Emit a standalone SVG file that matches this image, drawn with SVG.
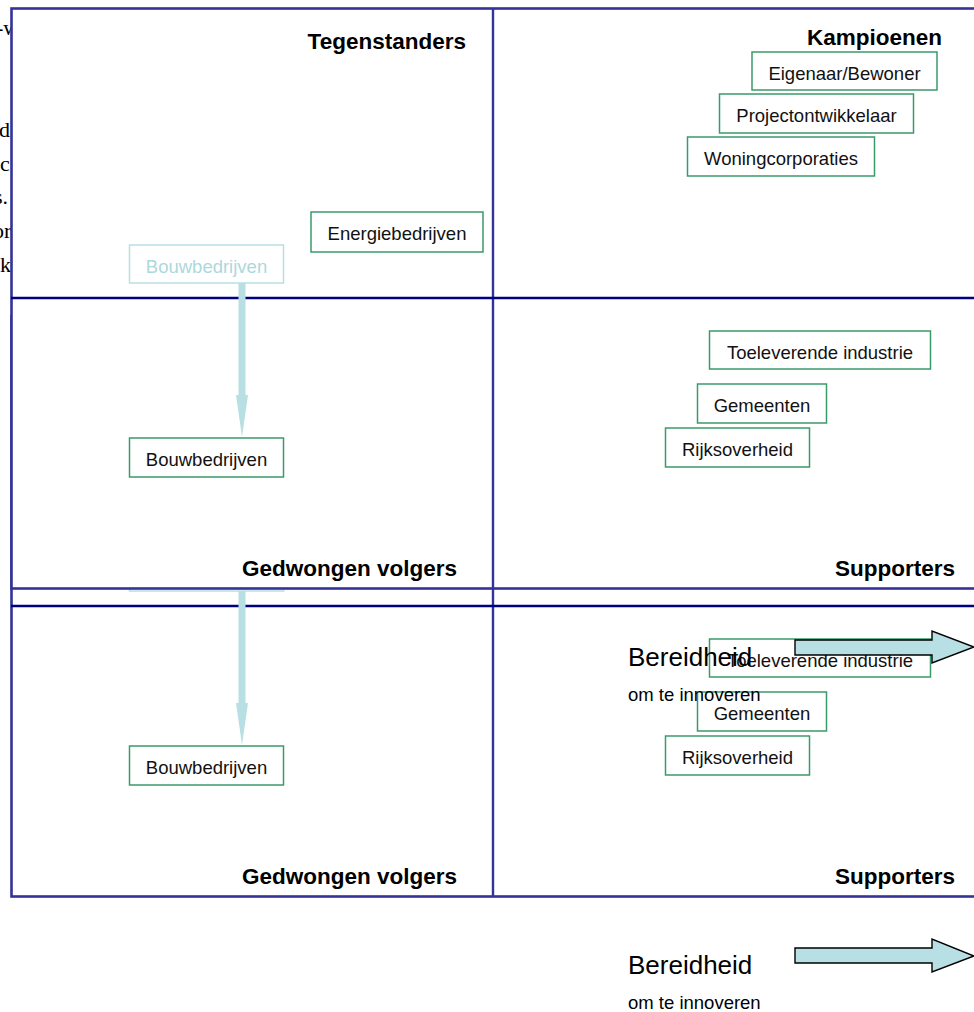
<svg xmlns="http://www.w3.org/2000/svg" width="974" height="1012" viewBox="0 0 974 1012">
  <style>
    .frame { fill: #ffffff; stroke: #333399; stroke-width: 2.6; }
    .divider { stroke: #333399; stroke-width: 2.4; }
    .axis { stroke: #000080; stroke-width: 2.6; }
    .box { fill: #ffffff; stroke: #3a9a6a; stroke-width: 1.5; }
    .ghost { fill: #ffffff; stroke: #b8dfe3; stroke-width: 1.5; }
    .lbl { font-family: "Liberation Sans", Arial, sans-serif; font-size: 18.5px; fill: #111111; text-anchor: middle; }
    .ghost-lbl { font-family: "Liberation Sans", Arial, sans-serif; font-size: 18.5px; fill: #acd8dc; text-anchor: middle; }
    .quad { font-family: "Liberation Sans", Arial, sans-serif; font-size: 22.5px; font-weight: bold; fill: #000000; text-anchor: end; }
    .axis-big { font-family: "Liberation Sans", Arial, sans-serif; font-size: 26px; fill: #000000; }
    .axis-small { font-family: "Liberation Sans", Arial, sans-serif; font-size: 18.5px; fill: #000000; }
    .side { font-family: "Liberation Serif", "Times New Roman", serif; font-size: 22px; fill: #000000; }
    .flow { fill: #b8dfe3; stroke: none; }
    .bigarrow { fill: #b8dfe3; stroke: #000000; stroke-width: 1.4; stroke-linejoin: miter; }
  </style>

  <!-- body text running behind the chart, only its edge shows -->
  <g id="side-text">
    <text class="side" x="-4" y="35">-w</text>
    <text class="side" x="-1" y="137">d</text>
    <text class="side" x="0" y="171">c</text>
    <text class="side" x="-6" y="204">s.</text>
    <text class="side" x="-7" y="238">or</text>
    <text class="side" x="0" y="272">k</text>
  </g>

  <!-- back sheet: same matrix shifted 308px down -->
  <g id="sheet-back">
    <rect class="frame" x="11.5" y="316.5" width="990" height="580"/>
    <line class="divider" x1="493" y1="316" x2="493" y2="896"/>
    <line class="axis" x1="11" y1="606" x2="990" y2="606"/>

    <g id="back-bouw-faded">
      <rect class="ghost" x="129.5" y="553" width="154" height="38"/>
    </g>
    <g id="back-bouw">
      <rect class="box" x="129.5" y="746" width="154" height="39"/>
      <text class="lbl" x="206.5" y="773.5">Bouwbedrijven</text>
    </g>
    <g id="back-toeleverende">
      <rect class="box" x="709.5" y="639" width="221" height="38"/>
      <text class="lbl" x="820" y="666.5">Toeleverende industrie</text>
    </g>
    <g id="back-gemeenten">
      <rect class="box" x="697.5" y="692" width="129" height="39"/>
      <text class="lbl" x="762" y="719.5">Gemeenten</text>
    </g>
    <g id="back-rijk">
      <rect class="box" x="665.5" y="736" width="144" height="39"/>
      <text class="lbl" x="737.5" y="763.5">Rijksoverheid</text>
    </g>
    <g id="back-labels">
      <text class="quad" x="457" y="884">Gedwongen volgers</text>
      <text class="quad" x="955" y="884">Supporters</text>
      <text class="axis-big" x="628" y="974">Bereidheid</text>
      <text class="axis-small" x="628" y="1009">om te innoveren</text>
    </g>
    <g id="back-connectors">
      <polygon class="flow" points="238.5,591 245.5,591 245.5,703 248,703 242,745 236,703 238.5,703"/>
      <polygon class="bigarrow" points="795,948 932,948 932,939 974,956 932,972 932,963 795,963"/>
    </g>
  </g>

  <!-- front sheet -->
  <g id="sheet-front">
    <rect class="frame" x="11.5" y="8.5" width="990" height="580"/>
    <line class="divider" x1="493" y1="8" x2="493" y2="588"/>
    <line class="axis" x1="11" y1="298" x2="990" y2="298"/>

    <g id="quadrant-labels">
      <text class="quad" x="466" y="49">Tegenstanders</text>
      <text class="quad" x="942" y="45">Kampioenen</text>
      <text class="quad" x="457" y="576">Gedwongen volgers</text>
      <text class="quad" x="955" y="576">Supporters</text>
    </g>

    <g id="eigenaar">
      <rect class="box" x="752" y="52" width="185" height="38"/>
      <text class="lbl" x="844.5" y="79.5">Eigenaar/Bewoner</text>
    </g>
    <g id="projectontwikkelaar">
      <rect class="box" x="719.5" y="94" width="194" height="39"/>
      <text class="lbl" x="816.5" y="121.5">Projectontwikkelaar</text>
    </g>
    <g id="woningcorporaties">
      <rect class="box" x="687.5" y="137" width="187" height="39"/>
      <text class="lbl" x="781" y="164.5">Woningcorporaties</text>
    </g>
    <g id="energiebedrijven">
      <rect class="box" x="311" y="212" width="172" height="40"/>
      <text class="lbl" x="397" y="240">Energiebedrijven</text>
    </g>
    <g id="bouw-faded">
      <rect class="ghost" x="129.5" y="245" width="154" height="38"/>
      <text class="ghost-lbl" x="206.5" y="272.5">Bouwbedrijven</text>
    </g>
    <g id="bouw">
      <rect class="box" x="129.5" y="438" width="154" height="39"/>
      <text class="lbl" x="206.5" y="465.5">Bouwbedrijven</text>
    </g>
    <g id="toeleverende">
      <rect class="box" x="709.5" y="331" width="221" height="38"/>
      <text class="lbl" x="820" y="358.5">Toeleverende industrie</text>
    </g>
    <g id="gemeenten">
      <rect class="box" x="697.5" y="384" width="129" height="39"/>
      <text class="lbl" x="762" y="411.5">Gemeenten</text>
    </g>
    <g id="rijksoverheid">
      <rect class="box" x="665.5" y="428" width="144" height="39"/>
      <text class="lbl" x="737.5" y="455.5">Rijksoverheid</text>
    </g>

    <g id="axis-label">
      <text class="axis-big" x="628" y="666">Bereidheid</text>
      <text class="axis-small" x="628" y="701">om te innoveren</text>
    </g>

    <g id="connectors">
      <polygon class="flow" points="238.5,283 245.5,283 245.5,395 248,395 242,437 236,395 238.5,395"/>
      <polygon class="bigarrow" points="795,640 932,640 932,631 974,647 932,663 932,655 795,655"/>
    </g>
  </g>
</svg>
